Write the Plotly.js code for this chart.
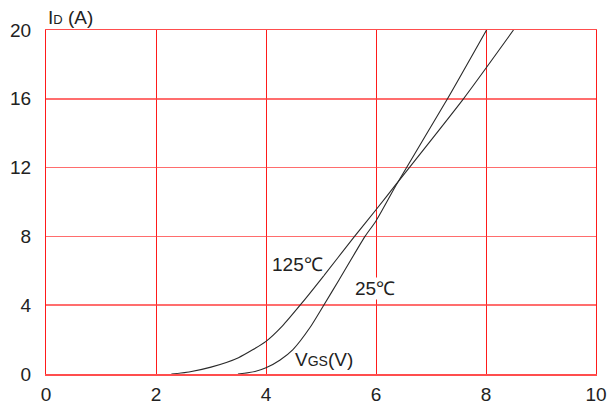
<!DOCTYPE html>
<html>
<head>
<meta charset="utf-8">
<script src="https://cdn.plot.ly/plotly-3.0.1.min.js"></script>
<style>html,body{margin:0;padding:0;background:#fff;}#chart{width:616px;height:407px;}</style>
</head>
<body>
<div id="chart"></div>
<script>
// Transfer characteristics: ID vs VGS
const vgs25 = [3.49, 3.8, 4.0, 4.25, 4.49, 4.8, 5.05, 5.33, 5.8, 6.0, 6.37, 7.3, 8.01];
const id25  = [0.0, 0.15, 0.36, 0.8, 1.42, 2.7, 4.0, 5.48, 8.0, 8.9, 11.0, 16.0, 20.0];
const vgs125 = [2.28, 2.6, 3.0, 3.5, 4.0, 4.3, 4.62, 5.01, 5.61, 6.0, 6.37, 7.59, 8.5];
const id125  = [0.0, 0.12, 0.4, 0.95, 1.9, 2.8, 4.0, 5.55, 8.0, 9.55, 11.05, 16.0, 20.0];
const xTicks = [0, 2, 4, 6, 8, 10];
const yTicks = [0, 4, 8, 12, 16, 20];
const labels = [
  {x: 4.58, y: 6.35, text: '125℃'},
  {x: 5.98, y: 5.0, text: '25℃'}
];

const lineStyle = {color: '#2a2a2a', width: 1.1, shape: 'spline', smoothing: 0.6};
const traces = [
  {x: vgs125, y: id125, mode: 'lines', line: lineStyle, hoverinfo: 'skip'},
  {x: vgs25, y: id25, mode: 'lines', line: lineStyle, hoverinfo: 'skip'}
];

const font = {family: 'Liberation Sans, Arial, sans-serif', size: 19, color: '#222'};
const layout = {
  width: 616, height: 407,
  margin: {l: 46, r: 19.5, t: 29.5, b: 32.5},
  paper_bgcolor: '#fff', plot_bgcolor: '#fff',
  showlegend: false,
  font: font,
  xaxis: {
    range: [0, 10], tickvals: xTicks, ticktext: xTicks.map(String),
    showgrid: true, gridcolor: '#ff1a1a', gridwidth: 1,
    showline: true, linecolor: '#ff4d4d', linewidth: 1.5, mirror: true,
    zeroline: false, ticks: '', ticklabelstandoff: 3, tickfont: font
  },
  yaxis: {
    range: [0, 20], tickvals: yTicks, ticktext: yTicks.map(String),
    showgrid: true, gridcolor: 'rgba(255,60,60,0.75)', gridwidth: 1.5,
    showline: true, linecolor: '#ff1a1a', linewidth: 1, mirror: true,
    zeroline: false, ticks: '', ticklabelstandoff: 10, tickfont: font
  },
  annotations: [
    {xref: 'paper', yref: 'paper', x: 0, y: 1, xanchor: 'left', yanchor: 'bottom', yshift: 0,
     text: 'I<span style="font-size:13px">D</span> (A)', showarrow: false, font: font},
    {xref: 'x', yref: 'y', x: 4.49, y: 0.84, xanchor: 'left', yanchor: 'middle',
     text: 'V<span style="font-size:14px">GS</span>(V)', showarrow: false, font: font}
  ].concat(labels.map(l => ({xref: 'x', yref: 'y', x: l.x, y: l.y, xanchor: 'center', yanchor: 'middle',
     text: l.text, showarrow: false, font: font, bgcolor: '#fff', borderpad: 0})))
};
Plotly.newPlot('chart', traces, layout, {displayModeBar: false, staticPlot: true});
</script>
</body>
</html>
